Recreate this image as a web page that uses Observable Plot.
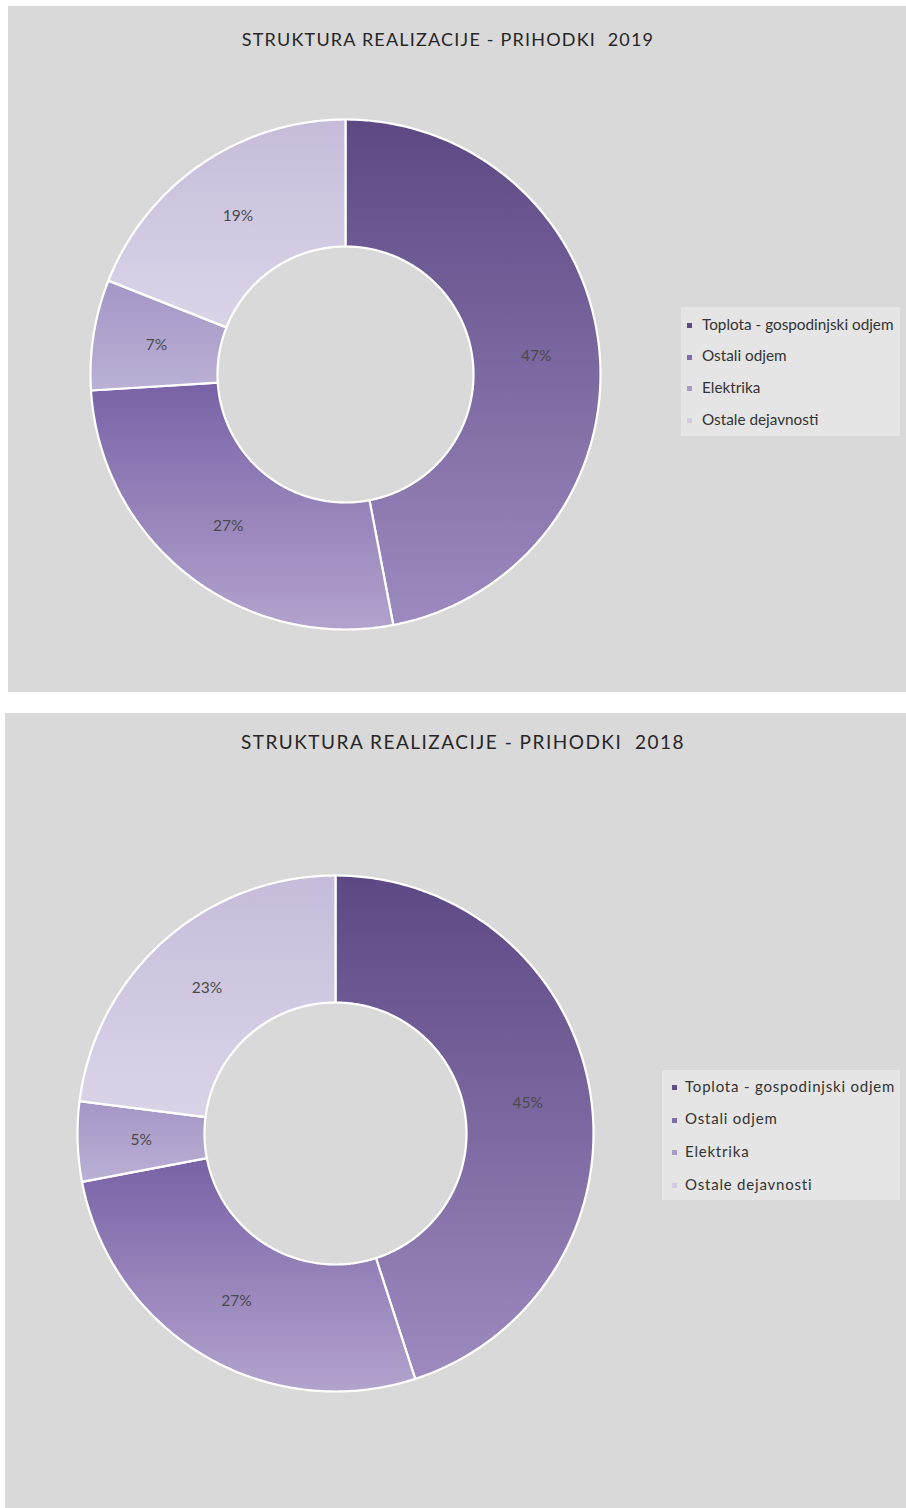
<!DOCTYPE html>
<html>
<head>
<meta charset="utf-8">
<script src="https://cdn.jsdelivr.net/npm/d3@7"></script>
<script src="https://cdn.jsdelivr.net/npm/@observablehq/plot@0.6"></script>
<style>
  html, body { margin: 0; padding: 0; background: #ffffff; }
  body { width: 906px; height: 1508px; position: relative; overflow: hidden; font-family: Lato, "Open Sans", sans-serif; }
  .panel { position: absolute; background: #d9d9d9; }
  .panel svg { position: absolute; left: 0; top: 0; }
  .title { position: absolute; white-space: nowrap; color: #262626; transform: translateX(-50%); line-height: 1; }
  .legend { position: absolute; background: #e5e5e5; box-sizing: border-box; }
  .legend .item { position: absolute; white-space: nowrap; color: #333; line-height: 1; }
  .legend .sw { position: absolute; width: 5px; height: 5px; }
</style>
</head>
<body>
<script>
// ---- data ----
const categories = ["Toplota - gospodinjski odjem", "Ostali odjem", "Elektrika", "Ostale dejavnosti"];
const values2019 = [47, 27, 7, 19];
const values2018 = [45, 27, 5, 23];
const labels2019 = ["47%", "27%", "7%", "19%"];
const labels2018 = ["45%", "27%", "5%", "23%"];
const title2019 = "STRUKTURA REALIZACIJE - PRIHODKI\u00a0 2019";
const title2018 = "STRUKTURA REALIZACIJE - PRIHODKI\u00a0 2018";

// ---- styles ----
const gradTop = ["#5c4883", "#7862a6", "#a496c6", "#c6bcda"];
const gradBot = ["#9d8abf", "#b2a3cd", "#bbb0d5", "#dbd4e8"];
const swatch = ["#5f4b86", "#7f6cab", "#a89bc8", "#d3cbe3"];

function drawPanel(cfg) {
  const panel = document.createElement("div");
  panel.className = "panel";
  Object.assign(panel.style, {left: cfg.left + "px", top: cfg.top + "px", width: cfg.w + "px", height: cfg.h + "px"});
  document.body.appendChild(panel);

  const ratio = cfg.r / cfg.R;
  const total = d3.sum(cfg.values);
  let acc = 0;
  const slices = cfg.values.map((v, i) => {
    const a0 = acc / total * 2 * Math.PI;
    acc += v;
    const a1 = acc / total * 2 * Math.PI;
    return {i, a0, a1, label: cfg.labels[i], cat: categories[i]};
  });

  const marks = [];
  slices.forEach(s => {
    const pts = [];
    const n = Math.max(8, Math.ceil((s.a1 - s.a0) / 0.01));
    for (let k = 0; k <= n; k++) {
      const a = s.a0 + (s.a1 - s.a0) * k / n;
      pts.push({x: Math.sin(a), y: Math.cos(a)});
    }
    for (let k = n; k >= 0; k--) {
      const a = s.a0 + (s.a1 - s.a0) * k / n;
      pts.push({x: Math.sin(a) * ratio, y: Math.cos(a) * ratio});
    }
    marks.push(Plot.line(pts, {x: "x", y: "y", curve: "linear-closed", fill: `url(#${cfg.id}-g${s.i})`, stroke: "#ffffff", strokeWidth: 2.2, strokeLinejoin: "round"}));
  });
  const mid = (1 + ratio) / 2;
  marks.push(Plot.text(slices, {
    x: d => Math.sin((d.a0 + d.a1) / 2) * mid,
    y: d => Math.cos((d.a0 + d.a1) / 2) * mid,
    text: "label", fill: "#4a4a4a", fontSize: cfg.labelSize, fontFamily: "Lato, sans-serif"
  }));

  const svg = Plot.plot({
    width: cfg.w, height: cfg.h,
    margin: 0,
    style: {background: "transparent", overflow: "visible"},
    x: {domain: [-1, 1], range: [cfg.cx - cfg.R, cfg.cx + cfg.R], axis: null},
    y: {domain: [-1, 1], range: [cfg.cy + cfg.R, cfg.cy - cfg.R], axis: null},
    marks
  });
  const NS = "http://www.w3.org/2000/svg";
  const defs = document.createElementNS(NS, "defs");
  slices.forEach(s => {
    const g = document.createElementNS(NS, "linearGradient");
    g.setAttribute("id", `${cfg.id}-g${s.i}`);
    g.setAttribute("x1", "0"); g.setAttribute("y1", "0");
    g.setAttribute("x2", "0"); g.setAttribute("y2", "1");
    [[0, gradTop[s.i]], [1, gradBot[s.i]]].forEach(([o, c]) => {
      const st = document.createElementNS(NS, "stop");
      st.setAttribute("offset", o); st.setAttribute("stop-color", c);
      g.appendChild(st);
    });
    defs.appendChild(g);
  });
  svg.insertBefore(defs, svg.firstChild);
  panel.appendChild(svg);

  const t = document.createElement("div");
  t.className = "title";
  t.textContent = cfg.title;
  Object.assign(t.style, {left: cfg.titleX + "px", top: cfg.titleY + "px", fontSize: cfg.titleSize + "px", letterSpacing: cfg.titleLs + "px"});
  panel.appendChild(t);

  const lg = document.createElement("div");
  lg.className = "legend";
  Object.assign(lg.style, {left: cfg.lg.x + "px", top: cfg.lg.y + "px", width: cfg.lg.w + "px", height: cfg.lg.h + "px"});
  categories.forEach((c, i) => {
    const sw = document.createElement("div");
    sw.className = "sw";
    Object.assign(sw.style, {left: cfg.lg.swX + "px", top: (cfg.lg.row0 + i * cfg.lg.step - 2) + "px", background: swatch[i]});
    lg.appendChild(sw);
    const it = document.createElement("div");
    it.className = "item";
    it.textContent = c;
    Object.assign(it.style, {left: cfg.lg.textX + "px", top: (cfg.lg.row0 + i * cfg.lg.step - cfg.lg.size * 0.55) + "px", fontSize: cfg.lg.size + "px", letterSpacing: cfg.lg.ls + "px"});
    lg.appendChild(it);
  });
  panel.appendChild(lg);
}

drawPanel({
  id: "p2019", left: 8, top: 6, w: 898, h: 686,
  cx: 337, cy: 368, R: 255, r: 128,
  values: values2019, labels: labels2019, labelSize: 15.5,
  title: title2019, titleX: 440, titleY: 24, titleSize: 18, titleLs: 1.2,
  lg: {x: 673, y: 301, w: 219, h: 129, swX: 6, textX: 21, row0: 18, step: 31.7, size: 15.3, ls: 0}
});
drawPanel({
  id: "p2018", left: 5, top: 713, w: 901, h: 795,
  cx: 330, cy: 420, R: 258, r: 131,
  values: values2018, labels: labels2018, labelSize: 15.5,
  title: title2018, titleX: 458, titleY: 19, titleSize: 19, titleLs: 1.5,
  lg: {x: 657, y: 357, w: 238, h: 130, swX: 10, textX: 23, row0: 17, step: 32.7, size: 15, ls: 0.8}
});
</script>
</body>
</html>
